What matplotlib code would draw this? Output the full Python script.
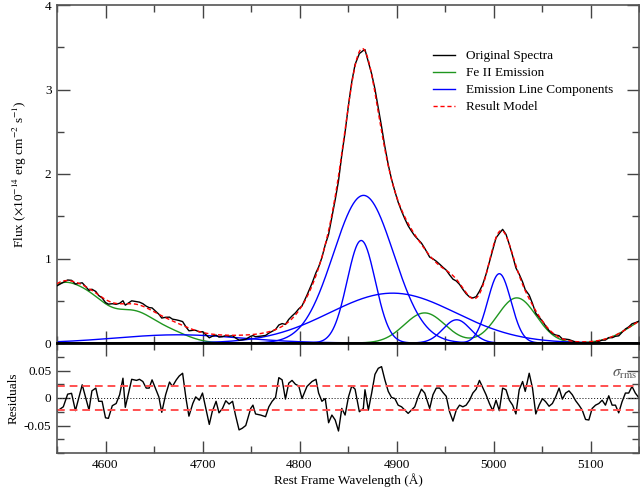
import numpy as np
import matplotlib
matplotlib.use("Agg")
import matplotlib.pyplot as plt
from matplotlib.ticker import MultipleLocator

# ---------------- data ----------------
# Emission line components (blue): centre (A), peak flux, sigma (A)
LINE_CENTERS = [4675.0, 4866.0, 4863.6, 4896.0, 4962.0, 5006.0]
LINE_PEAKS = [0.097, 1.747, 1.213, 0.590, 0.275, 0.820]
LINE_SIGMAS = [65.0, 31.0, 14.5, 65.0, 14.0, 12.0]

# Fe II emission (green) lines: centre, peak, sigma
FE_CENTERS = [4549.0, 4584.0, 4629.0, 4666.0, 4929.0, 5024.0, 5169.0]
FE_PEAKS = [0.58, 0.45, 0.33, 0.12, 0.356, 0.534, 0.33]
FE_SIGMAS = [20.0, 20.0, 20.0, 20.0, 21.0, 20.0, 27.0]

# Residuals (original - model)
RES_WAVE = [4550, 4556.5, 4561, 4565, 4569, 4576, 4583, 4586, 4590, 4593, 4596.5,
            4600, 4603, 4607, 4611, 4614.6, 4618, 4620.4, 4627, 4632, 4635, 4638.5,
            4642, 4645, 4648, 4652, 4655, 4658, 4662, 4666, 4669, 4673, 4676, 4679.5,
            4683, 4686, 4690, 4693, 4696.7, 4700, 4707, 4710, 4714, 4717, 4720.6, 4724,
            4727.4, 4731, 4734, 4737.7, 4741, 4744.6, 4749.7, 4752, 4754.7, 4759.9,
            4765, 4768.4, 4771.8, 4775.3, 4778.7, 4782.1, 4785.5, 4788.9, 4792.3,
            4795.8, 4799.2, 4802.6, 4807.7, 4812.9, 4817, 4819.7, 4823.1, 4826.5, 4830,
            4833.4, 4836.8, 4840.2, 4843.6, 4847, 4850.5, 4853.9, 4857.3, 4861.7,
            4865.8, 4867.5, 4871, 4874.4, 4877.8, 4881.2, 4884.6, 4888, 4891.5, 4894.9,
            4898.3, 4901.7, 4905.2, 4908.6, 4912, 4915.4, 4918.8, 4922.3, 4925.7,
            4929.1, 4934.2, 4937.6, 4941, 4944.5, 4947.9, 4951.3, 4954.7, 4958.2,
            4961.6, 4965, 4968.4, 4971.8, 4975.3, 4978.7, 4982.1, 4985.5, 4988.9,
            4992.3, 4995.8, 4999.2, 5002.6, 5006, 5009.4, 5012.9, 5016.3, 5019.7,
            5023.1, 5026.5, 5030, 5032.7, 5036.8, 5040.2, 5043.6, 5047, 5050.5, 5053.9,
            5057.3, 5060.7, 5064.1, 5067.6, 5071, 5074.4, 5077.8, 5081.2, 5084.7,
            5088.1, 5091.5, 5094.9, 5098.3, 5101.7, 5105.2, 5108.6, 5112, 5115.4,
            5118.8, 5122.3, 5125.7, 5129.1, 5132.5, 5136, 5139.4, 5142.8, 5146.2, 5150]
RES_VALUE = [-0.024, -0.016, 0.007, 0.0085, -0.023, 0.024, -0.022, 0.013, 0.018, -0.006,
             -0.006, -0.036, -0.037, -0.014, -0.010, 0.006, 0.036, -0.017, 0.034, 0.032,
             0.034, 0.030, 0.018, 0.018, 0.033, 0.015, 0.002, -0.026, 0.006, 0.029, 0.021,
             0.033, 0.040, 0.045, -0.001, -0.033, -0.010, 0.002, -0.004, 0.009, -0.048,
             -0.025, -0.006, -0.027, -0.019, -0.005, -0.011, -0.006, -0.031, -0.058,
             -0.055, -0.050, -0.019, -0.013, -0.029, -0.031, -0.034, -0.016, -0.006,
             0.001, 0.037, 0.033, -0.002, 0.027, 0.032, 0.025, 0.022, -0.001, 0.021,
             0.030, 0.034, 0.009, -0.006, -0.001, -0.045, -0.031, -0.040, -0.060,
             -0.019, -0.031, 0.002, 0.022, 0.016, -0.025, -0.019, 0.015, -0.022, 0.009,
             0.043, 0.054, 0.057, 0.033, 0.012, 0.001, -0.001, -0.013, -0.016, -0.022,
             -0.028, -0.022, -0.016, 0.002, 0.016, 0.009, -0.019, 0.006, 0.018, 0.018,
             0.010, 0.003, -0.025, -0.042, -0.022, -0.013, -0.016, -0.013, -0.004, 0.009,
             0.016, 0.032, 0.019, 0.006, -0.010, -0.023, -0.004, -0.023, 0.018, 0.015,
             -0.004, -0.013, -0.029, 0.015, 0.030, 0.012, 0.045, 0.018, -0.029, -0.013,
             -0.001, -0.007, -0.015, -0.010, 0.002, 0.018, -0.002, 0.009, 0.013, 0.006,
             -0.005, -0.013, -0.022, -0.039, -0.040, -0.019, -0.013, -0.010, -0.004,
             -0.013, 0.004, -0.013, -0.013, -0.027, -0.007, 0.009, 0.009, 0.021, 0.009,
             0.000]
SIGMA_RMS = 0.0227

X_TICKS = [4600, 4700, 4800, 4900, 5000, 5100]
FLUX_TICKS = [0, 1, 2, 3, 4]
RES_TICKS = [-0.05, 0, 0.05]
RES_TICK_LABELS = ["-0.05", "0", "0.05"]
LEGEND_LABELS = ["Original Spectra", "Fe II Emission", "Emission Line Components", "Result Model"]

# ---------------- helpers ----------------
def gauss(x, c, a, s):
    return a * np.exp(-0.5 * ((x - c) / s) ** 2)

plt.rcParams['font.family'] = ['Liberation Serif', 'DejaVu Serif']
plt.rcParams['mathtext.fontset'] = 'stix'
FS = 9.5

fig = plt.figure(figsize=(6.4, 4.93), dpi=100)
L = 57 / 640
W = 582 / 640
ax = fig.add_axes([L, 1 - 343 / 493, W, (343 - 5) / 493])
axr = fig.add_axes([L, 1 - 453 / 493, W, (453 - 343) / 493])

grid = np.linspace(4550, 5150, 1201)
rw = np.array(RES_WAVE)
rv = np.array(RES_VALUE)

fe_grid = sum(gauss(grid, c, a, s) for c, a, s in zip(FE_CENTERS, FE_PEAKS, FE_SIGMAS))
lines_grid = [gauss(grid, c, a, s) for c, a, s in zip(LINE_CENTERS, LINE_PEAKS, LINE_SIGMAS)]
model_grid = fe_grid + sum(lines_grid)

model_rw = sum(gauss(rw, c, a, s) for c, a, s in zip(FE_CENTERS, FE_PEAKS, FE_SIGMAS)) + \
    sum(gauss(rw, c, a, s) for c, a, s in zip(LINE_CENTERS, LINE_PEAKS, LINE_SIGMAS))
orig = model_rw + rv

GREEN = '#1f961f'
BLUE = '#0000ff'
lw = 1.0
h_orig, = ax.plot(rw, orig, color='black', lw=lw, zorder=3)
h_fe, = ax.plot(grid, fe_grid, color=GREEN, lw=lw, zorder=2)
h_line = None
for comp in lines_grid:
    h_line, = ax.plot(grid, comp, color=BLUE, lw=lw, zorder=2)
h_mod, = ax.plot(grid, model_grid, color='red', lw=lw, ls=(0, (3, 2)), zorder=4)

ax.set_xlim(4550, 5150)
ax.set_ylim(0, 4)
ax.set_yticks(FLUX_TICKS)
ax.yaxis.set_minor_locator(MultipleLocator(0.5))
ax.set_xticks(X_TICKS)
ax.xaxis.set_minor_locator(MultipleLocator(50))
ax.tick_params(labelbottom=False)
ax.set_ylabel(r'Flux ($\times$10$^{-14}$ erg cm$^{-2}$ s$^{-1}$)', fontsize=FS)
ax.yaxis.set_label_coords(-0.048, 0.5)

leg = ax.legend([h_orig, h_fe, h_line, h_mod], LEGEND_LABELS, loc='upper left',
                bbox_to_anchor=(433 / 640, 1 - 50 / 493), bbox_transform=fig.transFigure,
                frameon=False, fontsize=FS, handlelength=1.7, handletextpad=0.8,
                labelspacing=0.36, borderpad=0, borderaxespad=0)

# residual panel
axr.plot(rw, rv, color='black', lw=lw)
axr.axhline(0, color='black', lw=0.7, ls=(0, (1, 2)))
for v in (SIGMA_RMS, -SIGMA_RMS):
    axr.axhline(v, color='#ff5050', lw=1.4, ls=(0, (4, 2.5)))
axr.text(5135, 0.042, r'$\sigma_{\rm rms}$', color='#555555', fontsize=11,
         ha='center', va='center')
axr.set_xlim(4550, 5150)
axr.set_ylim(-0.1, 0.1)
axr.set_yticks(RES_TICKS)
axr.set_yticklabels(RES_TICK_LABELS)
axr.yaxis.set_minor_locator(MultipleLocator(0.025))
axr.set_xticks(X_TICKS)
axr.xaxis.set_minor_locator(MultipleLocator(50))
axr.set_ylabel('Residuals', fontsize=FS)
axr.yaxis.set_label_coords(-0.064, 0.5)
axr.set_xlabel('Rest Frame Wavelength (Å)', fontsize=FS, labelpad=2)

for a in (ax, axr):
    a.tick_params(which='both', direction='in', top=True, right=True,
                  labelsize=FS, color='#444444', width=1.0, pad=4)
    a.tick_params(which='major', length=9)
    a.tick_params(which='minor', length=5)
    for s in a.spines.values():
        s.set_color('#555555')
        s.set_linewidth(1.2)
ax.spines['bottom'].set_color('black')
ax.spines['bottom'].set_linewidth(2.0)
axr.spines['top'].set_color('black')
axr.spines['top'].set_linewidth(2.0)

fig.savefig('out.png', dpi=100)
